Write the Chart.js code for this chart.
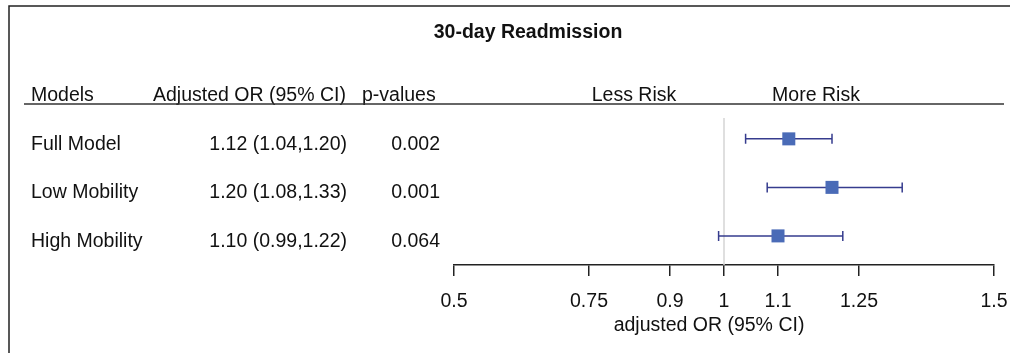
<!DOCTYPE html>
<html>
<head>
<meta charset="utf-8">
<script src="https://cdn.jsdelivr.net/npm/chart.js@4.4.0/dist/chart.umd.min.js"></script>
<style>
  html, body { margin: 0; padding: 0; background: #fff; }
</style>
</head>
<body>
<canvas id="forest" width="1010" height="353"></canvas>
<script>
const models = ['Full Model', 'Low Mobility', 'High Mobility'];
const orValues = [1.12, 1.20, 1.10];
const ciLower = [1.04, 1.08, 0.99];
const ciUpper = [1.20, 1.33, 1.22];
const orLabels = ['1.12 (1.04,1.20)', '1.20 (1.08,1.33)', '1.10 (0.99,1.22)'];
const pValues = ['0.002', '0.001', '0.064'];
const xTicks = [0.5, 0.75, 0.9, 1, 1.1, 1.25, 1.5];
const xTickLabels = ['0.5', '0.75', '0.9', '1', '1.1', '1.25', '1.5'];

const FONT = "'Liberation Sans', Arial, Helvetica, sans-serif";
Chart.defaults.font.family = FONT;
Chart.defaults.color = '#1a1a1a';

// table text, frame, null line and whiskers drawn around the scatter points
const forestPlugin = {
  id: 'forestTable',
  beforeDatasetsDraw(chart) {
    const {ctx, chartArea, scales: {x, y}} = chart;
    ctx.save();
    // line of no effect (OR = 1)
    ctx.strokeStyle = '#d4d4d4';
    ctx.lineWidth = 1.5;
    ctx.beginPath();
    ctx.moveTo(x.getPixelForValue(1), chartArea.top);
    ctx.lineTo(x.getPixelForValue(1), chartArea.bottom);
    ctx.stroke();

    // confidence intervals
    ctx.strokeStyle = '#363c8e';
    ctx.lineWidth = 1.5;
    models.forEach((m, i) => {
      const yy = y.getPixelForValue(i + 1);
      const x1 = x.getPixelForValue(ciLower[i]);
      const x2 = x.getPixelForValue(ciUpper[i]);
      ctx.beginPath();
      ctx.moveTo(x1, yy);
      ctx.lineTo(x2, yy);
      ctx.moveTo(x1, yy - 5);
      ctx.lineTo(x1, yy + 5);
      ctx.moveTo(x2, yy - 5);
      ctx.lineTo(x2, yy + 5);
      ctx.stroke();
    });
    ctx.restore();
  },
  afterDraw(chart) {
    const {ctx, scales: {y}} = chart;
    ctx.save();
    // frame
    ctx.strokeStyle = '#222';
    ctx.lineWidth = 1.5;
    ctx.beginPath();
    ctx.moveTo(9, 353);
    ctx.lineTo(9, 6);
    ctx.lineTo(1010, 6);
    ctx.stroke();

    ctx.fillStyle = '#111';
    ctx.textBaseline = 'alphabetic';
    ctx.font = 'bold 19.5px ' + FONT;
    ctx.textAlign = 'center';
    ctx.fillText('30-day Readmission', 528, 38);

    // header row
    ctx.font = '19.5px ' + FONT;
    ctx.textAlign = 'left';
    ctx.fillText('Models', 31, 101);
    ctx.fillText('Adjusted OR (95% CI)', 153, 101);
    ctx.fillText('p-values', 362, 101);
    ctx.textAlign = 'center';
    ctx.fillText('Less Risk', 634, 101);
    ctx.fillText('More Risk', 816, 101);

    ctx.strokeStyle = '#333';
    ctx.lineWidth = 1.5;
    ctx.beginPath();
    ctx.moveTo(24, 104);
    ctx.lineTo(1004, 104);
    ctx.stroke();

    // table rows
    models.forEach((m, i) => {
      const yy = y.getPixelForValue(i + 1) + 11;
      ctx.textAlign = 'left';
      ctx.fillText(m, 31, yy);
      ctx.textAlign = 'right';
      ctx.fillText(orLabels[i], 347, yy);
      ctx.fillText(pValues[i], 440, yy);
    });

    // axis title
    ctx.textAlign = 'center';
    ctx.fillText('adjusted OR (95% CI)', 709, 331);
    ctx.restore();
  }
};

new Chart(document.getElementById('forest'), {
  type: 'scatter',
  data: {
    datasets: [{
      label: 'Adjusted OR',
      data: orValues.map((v, i) => ({x: v, y: i + 1})),
      pointStyle: 'rect',
      pointRadius: 9.2,
      pointHoverRadius: 9.2,
      backgroundColor: '#4a6bb7',
      borderColor: '#4a6bb7',
      borderWidth: 0
    }]
  },
  options: {
    responsive: false,
    animation: false,
    events: [],
    layout: {padding: {left: 454, right: 16, top: 118, bottom: 0}},
    plugins: {
      legend: {display: false},
      tooltip: {enabled: false},
      title: {display: false}
    },
    scales: {
      x: {
        type: 'linear',
        min: 0.5,
        max: 1.5,
        afterBuildTicks: scale => {
          scale.ticks = xTicks.map(v => ({value: v}));
        },
        afterFit: scale => {
          scale.height = 88;
          scale.paddingLeft = 0;
          scale.paddingRight = 0;
        },
        border: {display: true, color: '#222', width: 1.5},
        grid: {drawOnChartArea: false, drawTicks: true, tickLength: 11, color: '#222', lineWidth: 1.5},
        ticks: {
          padding: 14,
          autoSkip: false,
          maxRotation: 0,
          font: {size: 19.5},
          color: '#111',
          callback: (v, i) => xTickLabels[i]
        }
      },
      y: {
        type: 'linear',
        display: false,
        reverse: true,
        min: 0.57,
        max: 3.6
      }
    }
  },
  plugins: [forestPlugin]
});
</script>
</body>
</html>
